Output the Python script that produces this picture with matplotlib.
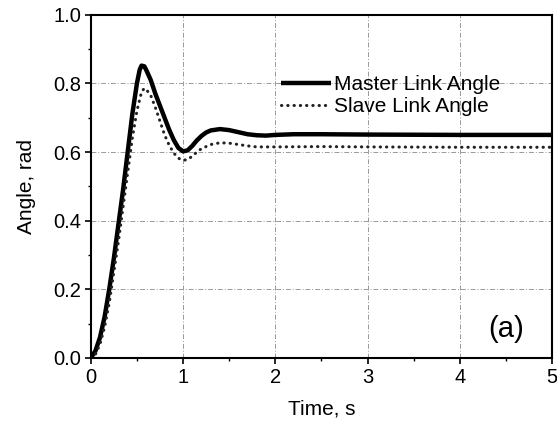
import matplotlib
matplotlib.use("Agg")
import matplotlib.pyplot as plt
from matplotlib.ticker import MultipleLocator

plt.rcParams['font.family'] = ['Liberation Sans', 'DejaVu Sans']

# Data
t_master = [0, 0.05, 0.1, 0.15, 0.2, 0.25, 0.3, 0.35, 0.4, 0.45, 0.5, 0.53, 0.55,
            0.58, 0.6, 0.65, 0.7, 0.75, 0.8, 0.85, 0.9, 0.95, 1.0, 1.05, 1.1, 1.15,
            1.2, 1.25, 1.3, 1.4, 1.5, 1.6, 1.7, 1.8, 1.9, 2.0, 2.2, 2.5, 3.0, 4.0, 5.0]
master = [0, 0.02, 0.06, 0.12, 0.2, 0.29, 0.39, 0.49, 0.6, 0.71, 0.80, 0.84, 0.852,
          0.85, 0.84, 0.81, 0.77, 0.735, 0.70, 0.665, 0.635, 0.612, 0.602, 0.605, 0.618, 0.634,
          0.647, 0.657, 0.663, 0.667, 0.664, 0.658, 0.652, 0.649, 0.648, 0.650, 0.652, 0.652, 0.651, 0.650, 0.650]

t_slave = [0, 0.05, 0.1, 0.15, 0.2, 0.25, 0.3, 0.35, 0.4, 0.45, 0.5, 0.55, 0.58,
           0.6, 0.65, 0.7, 0.75, 0.8, 0.85, 0.9, 0.95, 1.0, 1.05, 1.1, 1.15, 1.2,
           1.3, 1.4, 1.5, 1.6, 1.7, 1.8, 2.0, 2.5, 3.0, 4.0, 5.0]
slave = [0, 0.01, 0.04, 0.09, 0.16, 0.25, 0.34, 0.44, 0.54, 0.64, 0.72, 0.775, 0.786,
         0.783, 0.765, 0.73, 0.69, 0.65, 0.62, 0.597, 0.582, 0.576, 0.578, 0.588, 0.60, 0.61,
         0.622, 0.627, 0.626, 0.622, 0.618, 0.615, 0.615, 0.616, 0.615, 0.614, 0.614]

x_ticks = [0, 1, 2, 3, 4, 5]
y_ticks = [0.0, 0.2, 0.4, 0.6, 0.8, 1.0]

fig = plt.figure(figsize=(5.57, 4.25), dpi=100)
ax = fig.add_axes([0.163, 0.158, 0.828, 0.807])

ax.plot(t_master, master, color='black', lw=3.2, solid_joinstyle='round',
        solid_capstyle='butt', label='Master Link Angle')
ax.plot(t_slave, slave, color='#222222', lw=2.2, linestyle=(0, (0.1, 1.95)),
        dash_capstyle='round', label='Slave Link Angle')

ax.set_xlim(0, 5)
ax.set_ylim(0, 1.0)
ax.set_xticks(x_ticks)
ax.set_yticks(y_ticks)
ax.set_xticklabels([str(v) for v in x_ticks])
ax.set_yticklabels([f"{v:.1f}" for v in y_ticks])
ax.xaxis.set_minor_locator(MultipleLocator(0.5))
ax.yaxis.set_minor_locator(MultipleLocator(0.1))
ax.tick_params(which='major', direction='out', length=4.5, width=1.2, labelsize=14.5,
               colors='black', pad=2.5)
ax.tick_params(which='minor', direction='out', length=2.5, width=1.0)
for s in ax.spines.values():
    s.set_linewidth(1.5)

ax.grid(True, which='major', color='#999999', linestyle=(0, (5, 2, 1, 2)), linewidth=0.7)
ax.set_axisbelow(True)

ax.set_xlabel('Time, s', fontsize=15, labelpad=9)
ax.set_ylabel('Angle, rad', fontsize=15, labelpad=12)

ax.legend(loc='upper left', bbox_to_anchor=(0.413, 0.825), frameon=False,
          fontsize=15, handlelength=2.4, handletextpad=0.15, labelspacing=0.15,
          borderpad=0, borderaxespad=0)

ax.text(0.90, 0.085, '(a)', transform=ax.transAxes, fontsize=21,
        ha='center', va='center')

fig.savefig('out.png', dpi=100)
